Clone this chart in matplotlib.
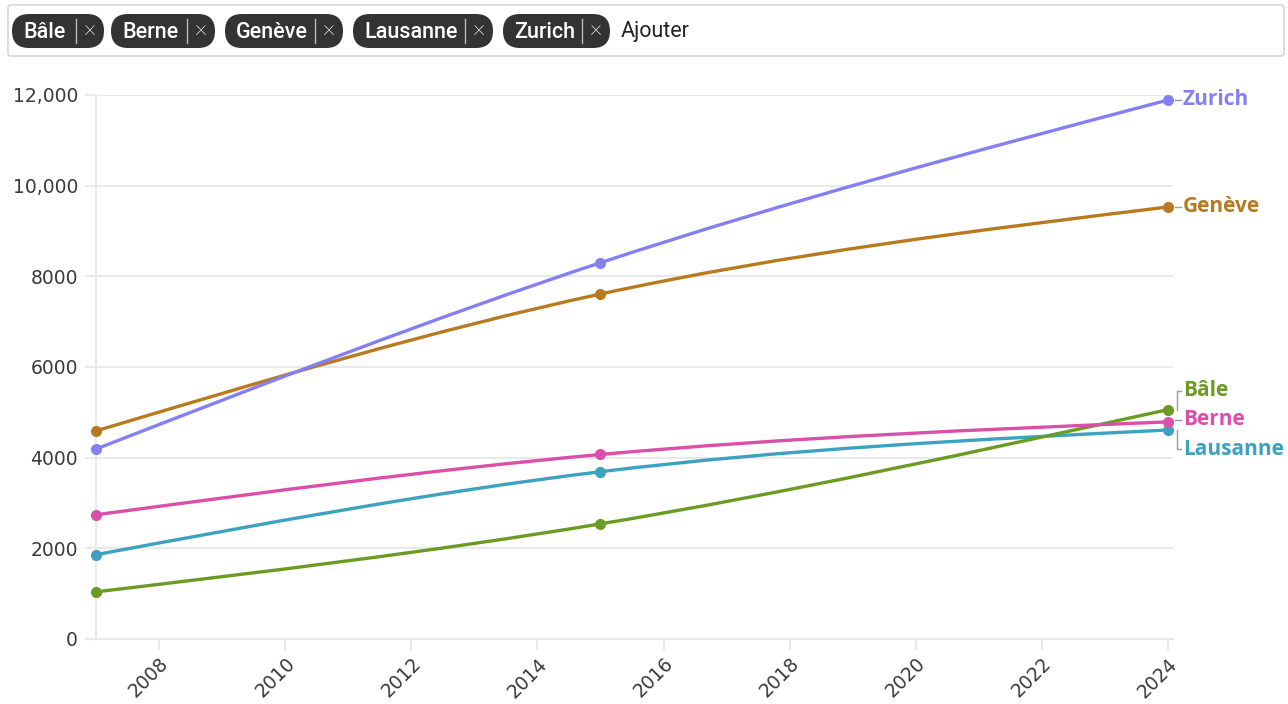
import numpy as np
import matplotlib
matplotlib.use("Agg")
import matplotlib.pyplot as plt
from matplotlib.path import Path
from matplotlib.patches import PathPatch, FancyBboxPatch
from matplotlib.transforms import IdentityTransform
from matplotlib.ticker import FuncFormatter

# data
years = [2007, 2015, 2024]
cities = ["Bâle", "Berne", "Genève", "Lausanne", "Zurich"]
bale = [1040, 2540, 5060]
berne = [2740, 4070, 4790]
geneve = [4590, 7610, 9530]
lausanne = [1860, 3690, 4610]
zurich = [4190, 8300, 11890]

series = {"Bâle": bale, "Berne": berne, "Genève": geneve,
          "Lausanne": lausanne, "Zurich": zurich}
colors = {"Bâle": "#6b9b22", "Berne": "#d94fa9", "Genève": "#b97a1f",
          "Lausanne": "#3ba3bf", "Zurich": "#837ff4"}
# vertical label shift in pixels (layout only)
label_dy = {"Bâle": 19, "Berne": 2, "Genève": 0, "Lausanne": -19, "Zurich": 0}

W, H = 1288, 704
plt.rcParams['font.family'] = ['DejaVu Sans']
fig = plt.figure(figsize=(W / 100, H / 100), dpi=100)
ax = fig.add_axes([96 / W, 1 - 639 / H, (1173 - 96) / W, (639 - 95) / H])

grid_c = "#e9e9e9"


def monotone_path(x, y):
    # cubic bezier path like d3 curveMonotoneX
    x = np.asarray(x, float)
    y = np.asarray(y, float)
    h = np.diff(x)
    s = np.diff(y) / h
    n = len(x)
    t = np.zeros(n)
    for i in range(1, n - 1):
        p = (s[i - 1] * h[i] + s[i] * h[i - 1]) / (h[i - 1] + h[i])
        t[i] = (np.sign(s[i - 1]) + np.sign(s[i])) * min(abs(s[i - 1]), abs(s[i]), 0.5 * abs(p))
    t[0] = (3 * s[0] - t[1]) / 2
    t[-1] = (3 * s[-1] - t[-2]) / 2
    verts = [(x[0], y[0])]
    codes = [Path.MOVETO]
    for i in range(n - 1):
        dx = h[i] / 3
        verts += [(x[i] + dx, y[i] + dx * t[i]),
                  (x[i + 1] - dx, y[i + 1] - dx * t[i + 1]),
                  (x[i + 1], y[i + 1])]
        codes += [Path.CURVE4] * 3
    return Path(verts, codes)


for name in ["Lausanne", "Bâle", "Berne", "Genève", "Zurich"]:
    vals = series[name]
    ax.add_patch(PathPatch(monotone_path(years, vals), fill=False,
                           edgecolor=colors[name], lw=2.4, zorder=3,
                           capstyle='round', joinstyle='round'))
    ax.plot(years, vals, 'o', color=colors[name], ms=7, zorder=4, clip_on=False)

ax.set_xlim(2007, 2024.08)
ax.set_ylim(0, 12000)
ax.set_xticks(range(2008, 2025, 2))
ax.set_yticks(range(0, 12001, 2000))
ax.yaxis.set_major_formatter(FuncFormatter(
    lambda v, p: f"{int(v):,}" if v >= 10000 else f"{int(v)}"))
ax.grid(axis='y', color=grid_c, lw=1.5)
ax.set_axisbelow(True)
for sp in ["top", "right"]:
    ax.spines[sp].set_visible(False)
ax.spines["left"].set_color(grid_c)
ax.spines["left"].set_linewidth(1.5)
ax.spines["bottom"].set_color(grid_c)
ax.spines["bottom"].set_linewidth(1.5)
ax.tick_params(axis='both', colors=grid_c, length=8, width=1.5,
               labelcolor="#3a3a3a", labelsize=13.5)
ax.tick_params(axis='y', pad=5)
ax.tick_params(axis='x', pad=3)
for lab in ax.get_xticklabels():
    lab.set_rotation(45)
    lab.set_ha('right')
    lab.set_va('top')
    lab.set_rotation_mode('anchor')

# end labels with small connectors (pixel layout)
fig.canvas.draw()
ident = IdentityTransform()
for name in cities:
    vals = series[name]
    px, py = ax.transData.transform((years[-1], vals[-1]))
    ly = py + label_dy[name]
    vx = px + 9
    if abs(label_dy[name]) < 5:
        fig.add_artist(plt.Line2D([px + 7, px + 13], [ly, ly], color="#999999",
                                  lw=1, transform=ident))
    else:
        fig.add_artist(plt.Line2D([vx, vx, vx + 4], [py, ly, ly], color="#999999",
                                  lw=1, transform=ident))
    fig.text((px + 15) / W, ly / H, name, color=colors[name], fontsize=15,
             fontweight='bold', family=['Open Sans', 'DejaVu Sans'],
             ha='left', va='center')

# filter bar at the top
fig.add_artist(FancyBboxPatch((8, H - 56), 1276, 51,
                              boxstyle="round,pad=0,rounding_size=3",
                              facecolor="white", edgecolor="#d6d6d6", lw=1.2,
                              transform=ident))
pills = [(12, 104), (111, 215), (225, 343), (353, 493), (503, 610)]
for name, (x0, x1) in zip(cities, pills):
    fig.add_artist(FancyBboxPatch((x0, H - 48), x1 - x0, 34,
                                  boxstyle="round,pad=0,rounding_size=17",
                                  facecolor="#333333", edgecolor="none",
                                  transform=ident))
    fig.text((x0 + 11) / W, 1 - 32 / H, name, color="white", fontsize=15.5,
             fontweight='medium', family=['Roboto', 'DejaVu Sans'],
             ha='left', va='center')
    fig.add_artist(plt.Line2D([x1 - 28, x1 - 28], [H - 43, H - 19],
                              color="#bbbbbb", lw=1, transform=ident))
    fig.text((x1 - 14) / W, 1 - 28 / H, "×", color="white", fontsize=17,
             fontweight='light', family=['Roboto', 'DejaVu Sans'],
             ha='center', va='center')
fig.text(621 / W, 1 - 32 / H, "Ajouter", color="#222222", fontsize=15.5,
         family=['Roboto', 'DejaVu Sans'], ha='left', va='center')

fig.savefig("out.png", dpi=100)
